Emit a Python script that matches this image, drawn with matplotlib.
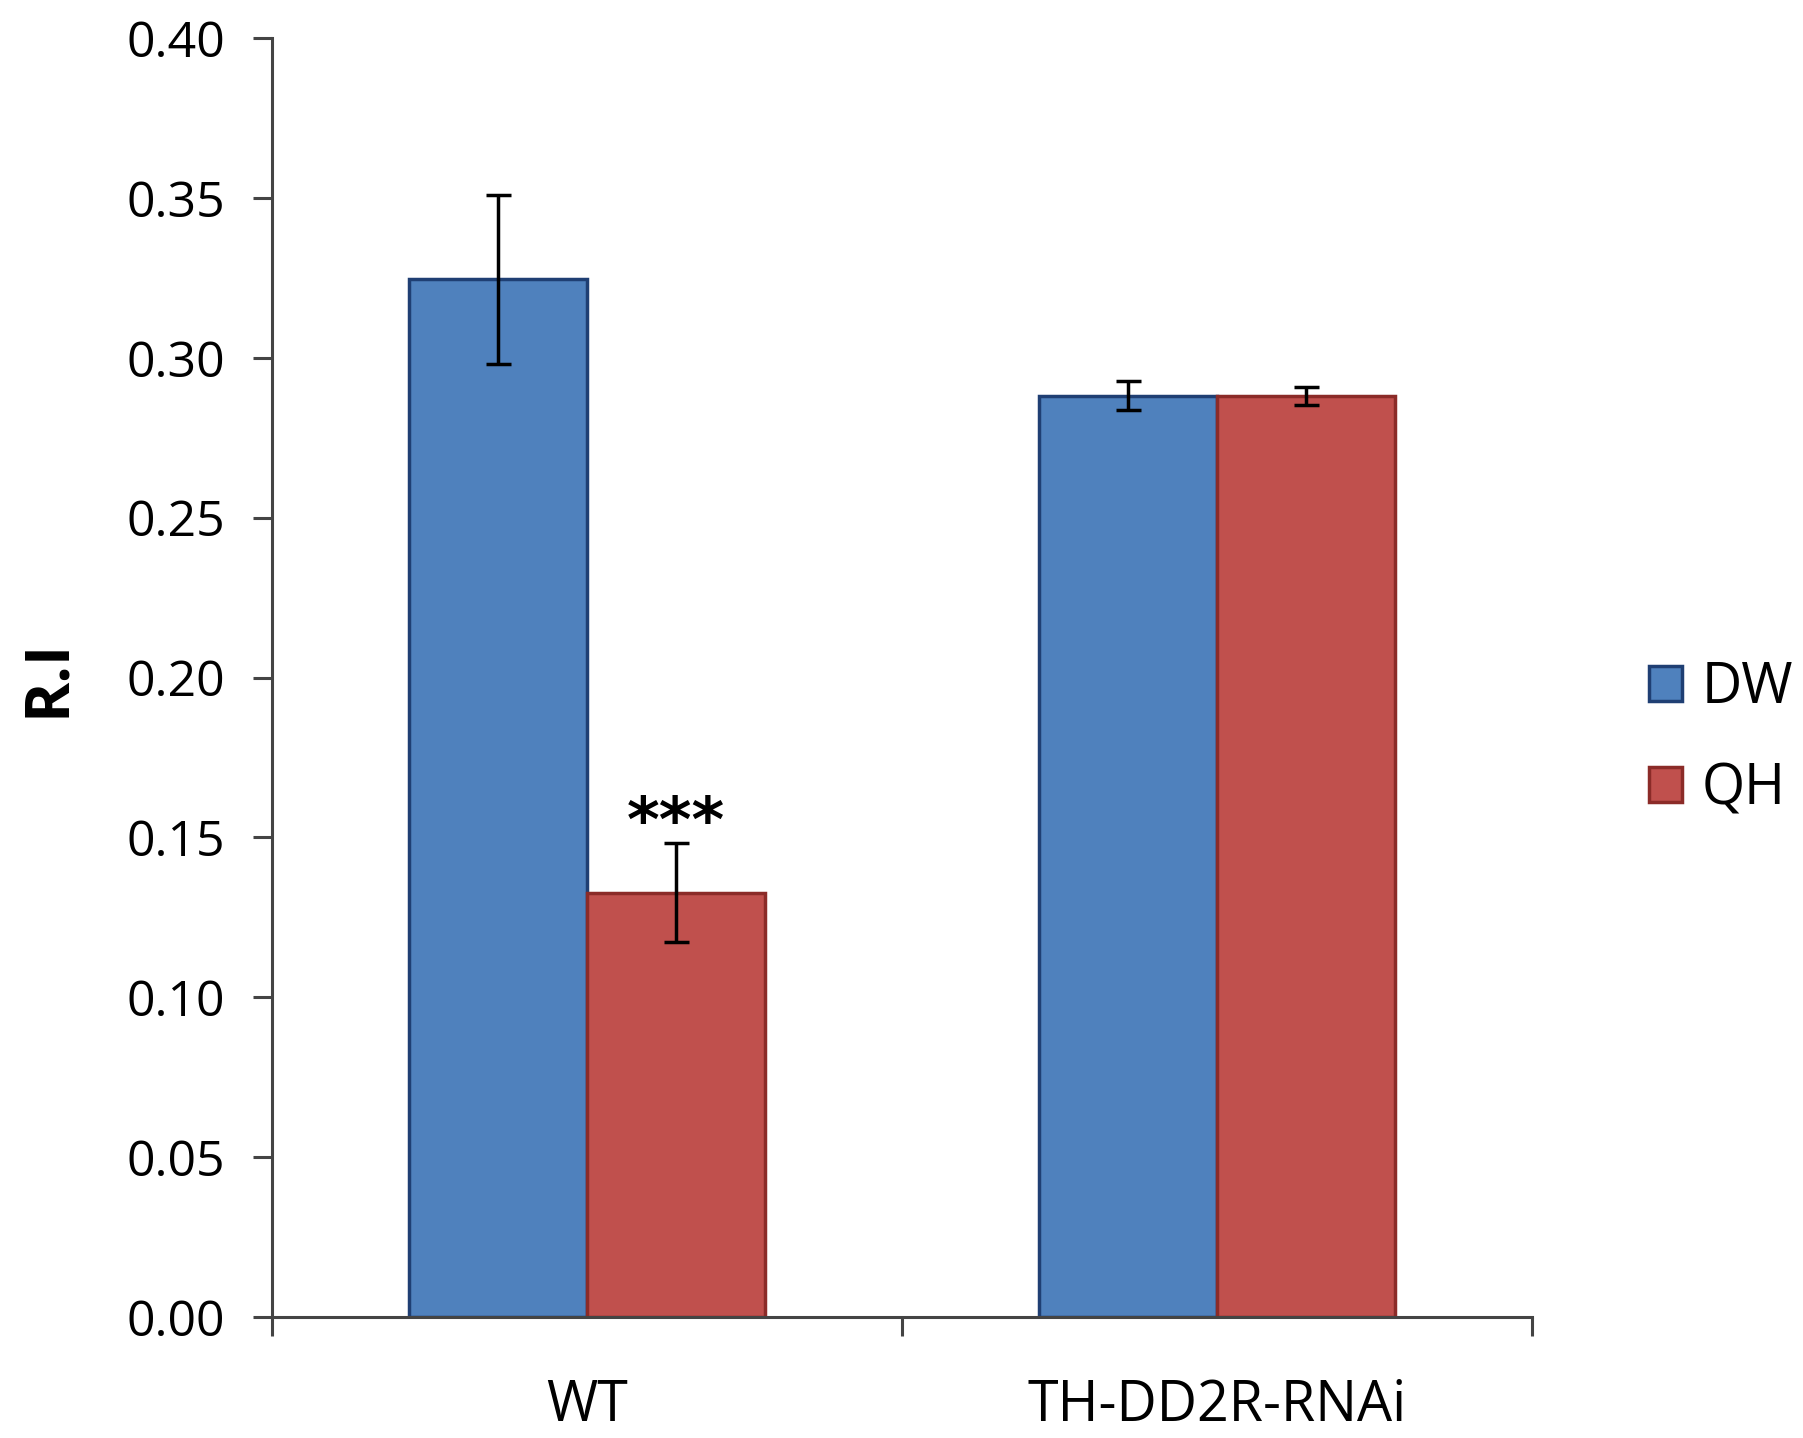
import numpy as np
from matplotlib import pyplot as plt
from matplotlib.patches import Patch

# data
groups = ['WT', 'TH-DD2R-RNAi']
series = ['DW', 'QH']
dw_vals = [0.3245, 0.2881]
qh_vals = [0.1327, 0.2881]
dw_err = [0.0265, 0.0045]
qh_err = [0.0155, 0.0029]
star_text = '***'
star_y = 0.149

fill_colors = ['#4F81BD', '#C0504D']
edge_colors = ['#1F3F73', '#8B2B28']

plt.rcParams['font.family'] = ['Open Sans', 'DejaVu Sans']

fig = plt.figure(figsize=(18.03, 14.38), dpi=100)
ax = fig.add_axes([0.1511, 0.084, 0.6984, 0.8896])

x = np.arange(len(groups))
w = 0.283

# draw the bars with error bars
ax.bar(x - w / 2, dw_vals, w, color=fill_colors[0], edgecolor=edge_colors[0], linewidth=2.5, zorder=2)
ax.bar(x + w / 2, qh_vals, w, color=fill_colors[1], edgecolor=edge_colors[1], linewidth=2.5, zorder=2)
ax.errorbar(x - w / 2, dw_vals, yerr=dw_err, fmt='none', ecolor='black', elinewidth=2.5,
            capsize=9, capthick=2.5, zorder=3)
ax.errorbar(x + w / 2, qh_vals, yerr=qh_err, fmt='none', ecolor='black', elinewidth=2.5,
            capsize=9, capthick=2.5, zorder=3)

# significance mark above WT / QH
ax.text(x[0] + w / 2, star_y, star_text, ha='center', va='baseline', fontsize=45,
        fontweight='bold', family='DejaVu Sans')

ax.set_xlim(-0.5, len(groups) - 0.5)
ax.set_ylim(0, 0.40)
ax.set_yticks(np.arange(0, 0.401, 0.05))
ax.set_yticklabels(['%.2f' % v for v in np.arange(0, 0.401, 0.05)])

# Excel style category axis: ticks at boundaries, labels at centres
ax.set_xticks(np.arange(-0.5, len(groups), 1.0))
ax.set_xticklabels([])
ax.set_xticks(x, minor=True)
ax.set_xticklabels(groups, minor=True)
ax.tick_params(axis='x', which='minor', length=0, pad=44, labelsize=40)
ax.tick_params(axis='x', which='major', length=14, width=2.2, color='#444444', direction='out')
ax.tick_params(axis='y', length=14, width=2.2, color='#444444', labelsize=36, pad=20)

for s in ['top', 'right']:
    ax.spines[s].set_visible(False)
for s in ['left', 'bottom']:
    ax.spines[s].set_color('#444444')
    ax.spines[s].set_linewidth(2.2)

ax.set_ylabel('R.I', fontsize=44, fontweight='bold', labelpad=34)

handles = [Patch(facecolor=fill_colors[i], edgecolor=edge_colors[i], linewidth=2.5, label=series[i])
           for i in range(2)]
ax.legend(handles=handles, loc='center left', bbox_to_anchor=(1.062, 0.452), frameon=False,
          fontsize=40, handlelength=0.6, handleheight=0.6, handletextpad=0.35,
          labelspacing=0.8, borderpad=0.2)

fig.savefig('out.png', dpi=100)
